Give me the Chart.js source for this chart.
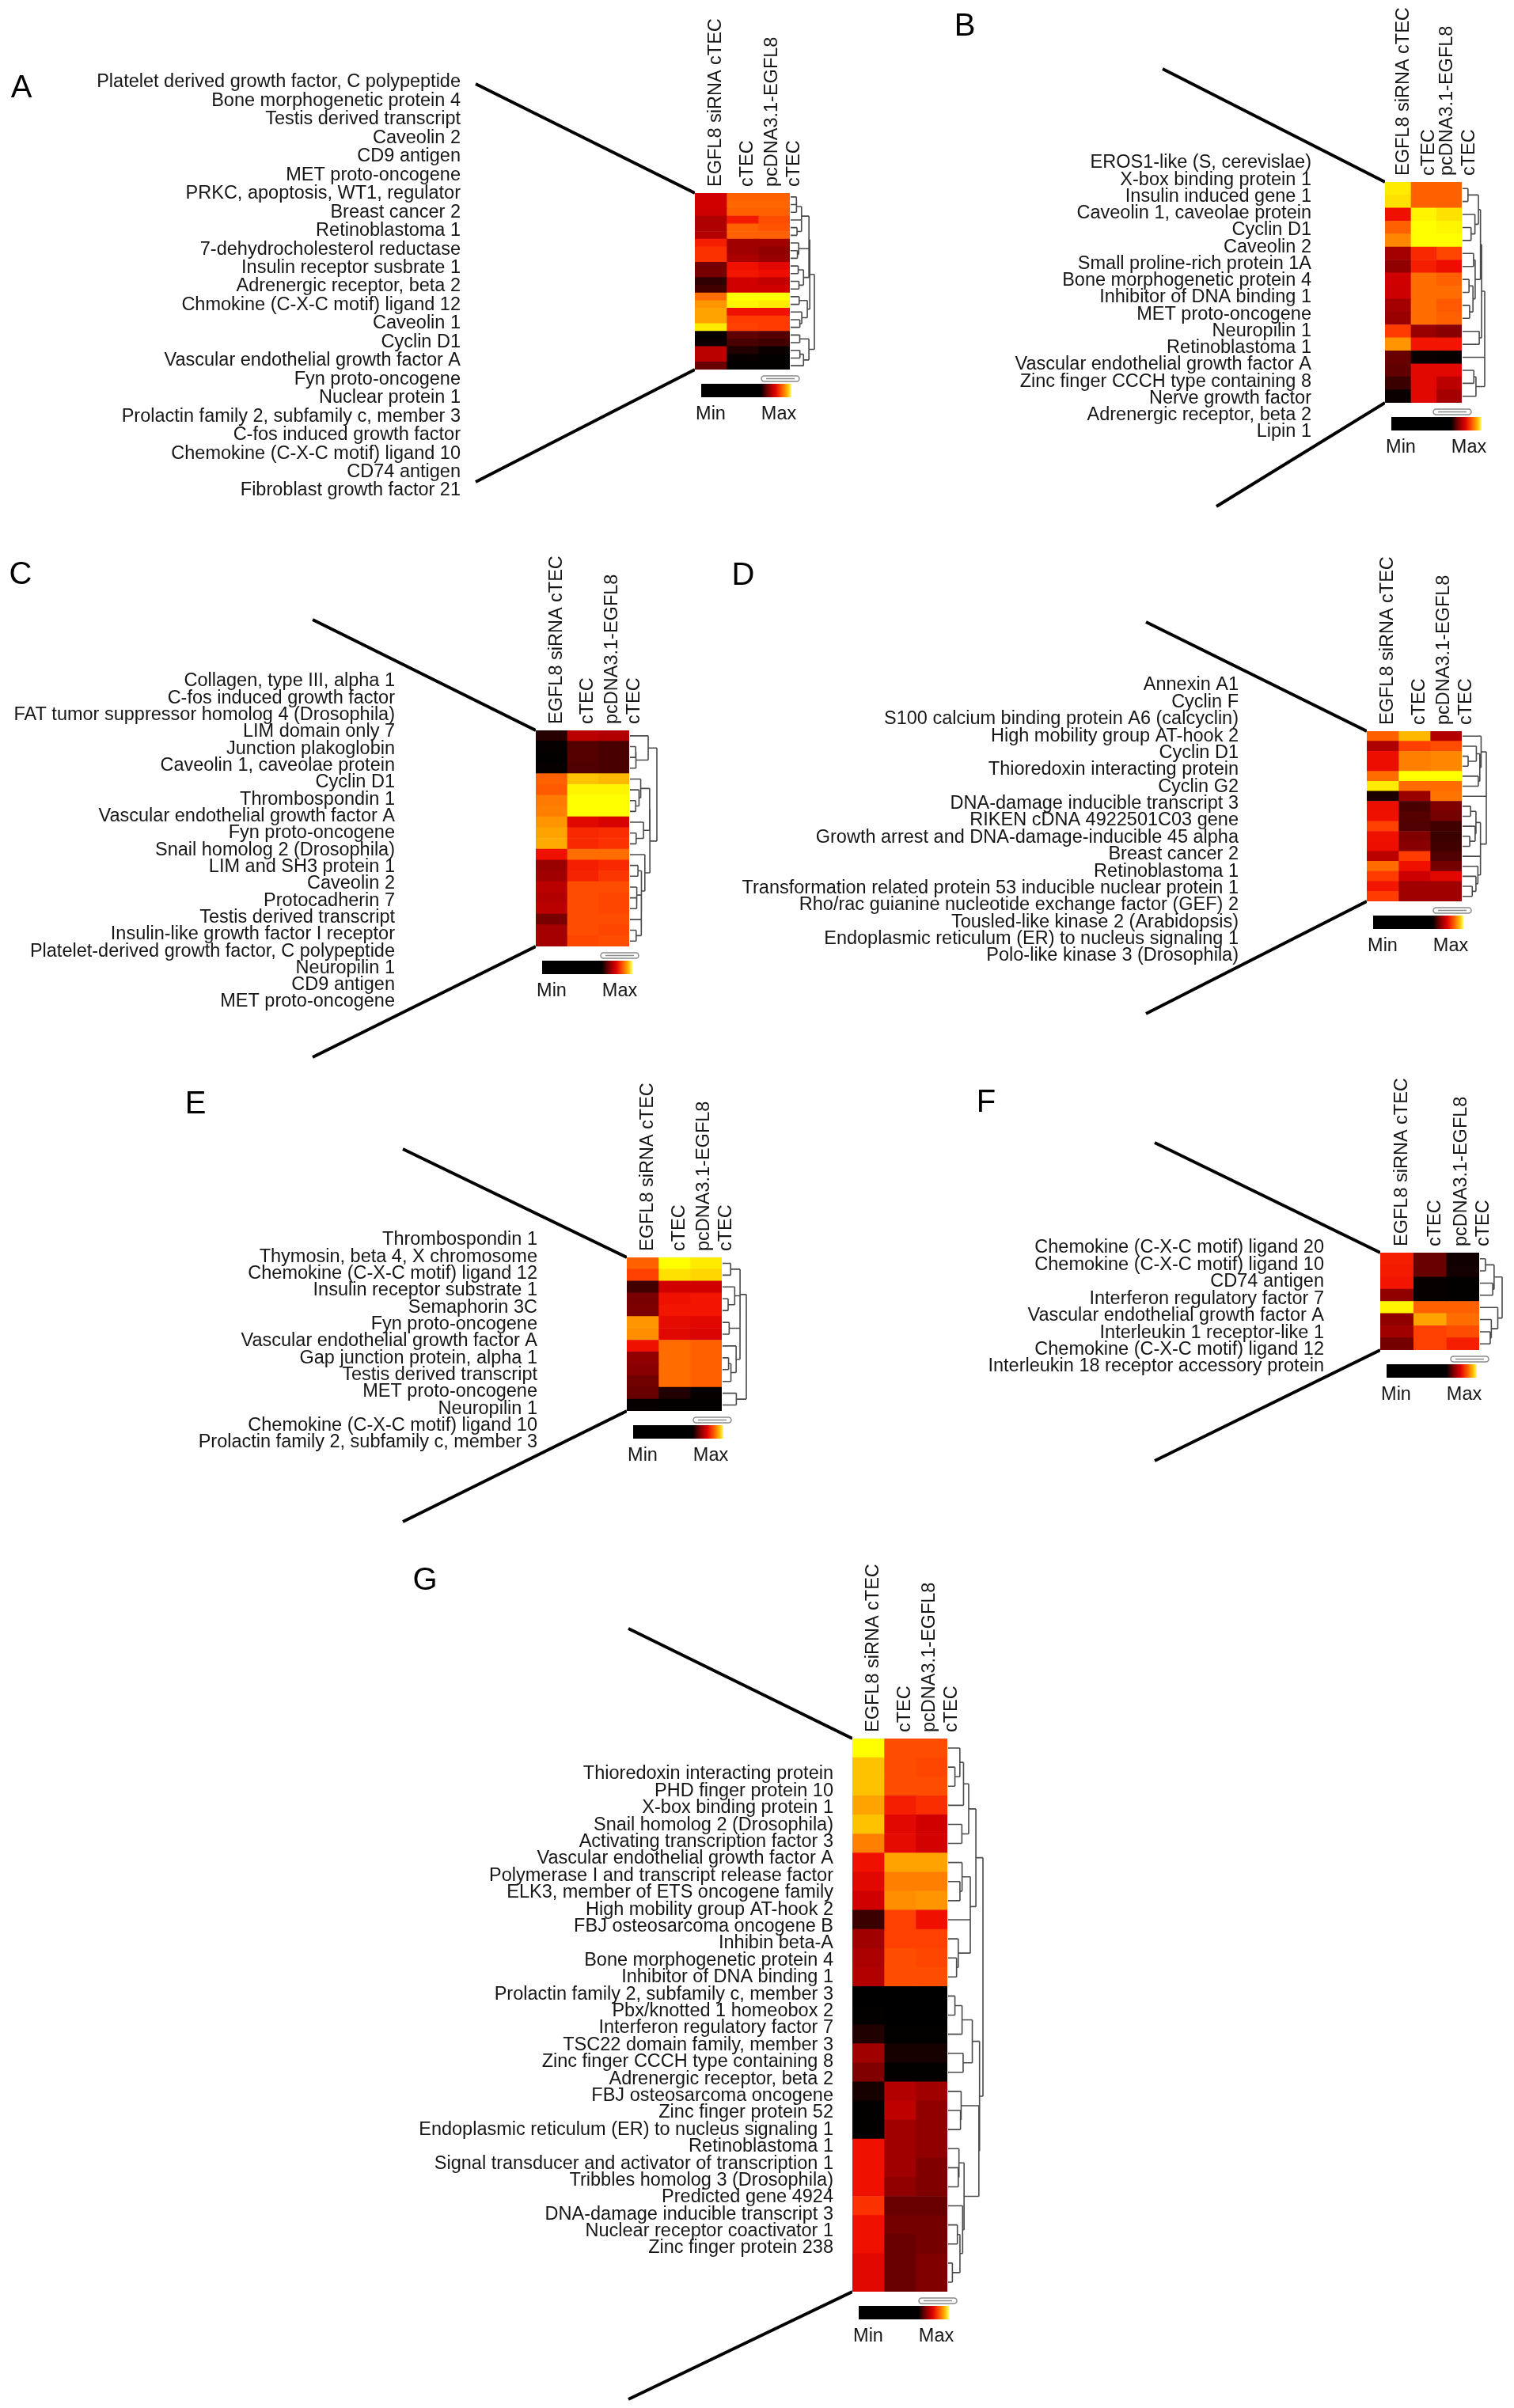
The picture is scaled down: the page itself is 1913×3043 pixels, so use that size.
<!DOCTYPE html>
<html>
<head>
<meta charset="utf-8">
<script src="https://cdn.jsdelivr.net/npm/chart.js@4.4.1/dist/chart.umd.min.js"></script>
<style>
  body { margin: 0; background: #fff; }
  #fig { position: relative; width: 1913px; height: 3043px; overflow: hidden; background: #fff; }
  #fig canvas { position: absolute; }
</style>
</head>
<body>
<div id="fig"></div>
<script>
// column tick labels, shared by every panel
const columnNames = ['EGFL8 siRNA cTEC', 'cTEC', ['pcDNA3.1-EGFL8', 'cTEC']];

// Panel A
const genesA = ['Platelet derived growth factor, C polypeptide', 'Bone morphogenetic protein 4', 'Testis derived transcript',
  'Caveolin 2', 'CD9 antigen', 'MET proto-oncogene', 'PRKC, apoptosis, WT1, regulator', 'Breast cancer 2', 'Retinoblastoma 1',
  '7-dehydrocholesterol reductase', 'Insulin receptor susbrate 1', 'Adrenergic receptor, beta 2', 'Chmokine (C-X-C motif) ligand 12',
  'Caveolin 1', 'Cyclin D1', 'Vascular endothelial growth factor A', 'Fyn proto-oncogene', 'Nuclear protein 1',
  'Prolactin family 2, subfamily c, member 3', 'C-fos induced growth factor', 'Chemokine (C-X-C motif) ligand 10', 'CD74 antigen',
  'Fibroblast growth factor 21'];
const sirnaA = [0.55, 0.55, 0.54, 0.47, 0.47, 0.48, 0.68, 0.72, 0.72, 0.33, 0.34, 0.15, 0.2, 0.82, 0.88, 0.9, 0.9, 0.98, 0.02, 0.03, 0.5, 0.5, 0.3];
const ctecA = [0.8, 0.81, 0.8, 0.67, 0.8, 0.8, 0.44, 0.44, 0.46, 0.65, 0.66, 0.55, 0.55, 1.0, 0.99, 0.65, 0.74, 0.75, 0.28, 0.22, 0.1, 0.02, 0.01];
const pcdnaA = [0.8, 0.81, 0.8, 0.77, 0.78, 0.8, 0.44, 0.4, 0.42, 0.6, 0.64, 0.52, 0.55, 1.0, 0.98, 0.65, 0.74, 0.74, 0.25, 0.2, 0.03, 0.01, 0.01];

// Panel B
const genesB = ['EROS1-like (S, cerevislae)', 'X-box binding protein 1', 'Insulin induced gene 1', 'Caveolin 1, caveolae protein',
  'Cyclin D1', 'Caveolin 2', 'Small proline-rich protein 1A', 'Bone morphogenetic protein 4', 'Inhibitor of DNA binding 1',
  'MET proto-oncogene', 'Neuropilin 1', 'Retinoblastoma 1', 'Vascular endothelial growth factor A',
  'Zinc finger CCCH type containing 8', 'Nerve growth factor', 'Adrenergic receptor, beta 2', 'Lipin 1'];
const sirnaB = [0.98, 0.97, 0.65, 0.8, 0.86, 0.45, 0.4, 0.55, 0.54, 0.45, 0.42, 0.74, 0.88, 0.3, 0.28, 0.18, 0.03];
const ctecB = [0.8, 0.8, 0.99, 1.0, 1.0, 0.7, 0.68, 0.82, 0.82, 0.82, 0.82, 0.42, 0.66, 0.03, 0.6, 0.6, 0.6];
const pcdnaB = [0.8, 0.8, 0.97, 0.99, 1.0, 0.76, 0.64, 0.8, 0.82, 0.79, 0.8, 0.38, 0.66, 0.02, 0.6, 0.5, 0.45];

// Panel C
const genesC = ['Collagen, type III, alpha 1', 'C-fos induced growth factor', 'FAT tumor suppressor homolog 4 (Drosophila)',
  'LIM domain only 7', 'Junction plakoglobin', 'Caveolin 1, caveolae protein', 'Cyclin D1', 'Thrombospondin 1',
  'Vascular endothelial growth factor A', 'Fyn proto-oncogene', 'Snail homolog 2 (Drosophila)', 'LIM and SH3 protein 1',
  'Caveolin 2', 'Protocadherin 7', 'Testis derived transcript', 'Insulin-like growth factor I receptor',
  'Platelet-derived growth factor, C polypeptide', 'Neuropilin 1', 'CD9 antigen', 'MET proto-oncogene'];
const sirnaC = [0.12, 0.02, 0.01, 0.02, 0.8, 0.79, 0.84, 0.85, 0.88, 0.9, 0.91, 0.65, 0.42, 0.44, 0.5, 0.48, 0.5, 0.34, 0.45, 0.45];
const ctecC = [0.5, 0.25, 0.25, 0.24, 0.94, 0.99, 1.0, 1.0, 0.6, 0.7, 0.7, 0.82, 0.68, 0.69, 0.77, 0.77, 0.77, 0.77, 0.77, 0.76];
const pcdnaC = [0.48, 0.22, 0.22, 0.22, 0.93, 0.99, 1.0, 1.0, 0.57, 0.71, 0.72, 0.82, 0.7, 0.73, 0.77, 0.76, 0.76, 0.77, 0.76, 0.77];

// Panel D
const genesD = ['Annexin A1', 'Cyclin F', 'S100 calcium binding protein A6 (calcyclin)', 'High mobility group AT-hook 2',
  'Cyclin D1', 'Thioredoxin interacting protein', 'Cyclin G2', 'DNA-damage inducible transcript 3', 'RIKEN cDNA 4922501C03 gene',
  'Growth arrest and DNA-damage-inducible 45 alpha', 'Breast cancer 2', 'Retinoblastoma 1',
  'Transformation related protein 53 inducible nuclear protein 1', 'Rho/rac guianine nucleotide exchange factor (GEF) 2',
  'Tousled-like kinase 2 (Arabidopsis)', 'Endoplasmic reticulum (ER) to nucleus signaling 1', 'Polo-like kinase 3 (Drosophila)'];
const sirnaD = [0.8, 0.47, 0.64, 0.63, 0.82, 0.98, 0.08, 0.64, 0.65, 0.75, 0.65, 0.64, 0.5, 0.82, 0.74, 0.66, 0.74];
const ctecD = [0.93, 0.75, 0.85, 0.85, 1.0, 0.82, 0.42, 0.22, 0.25, 0.24, 0.36, 0.38, 0.74, 0.65, 0.54, 0.44, 0.44];
const pcdnaD = [0.48, 0.77, 0.86, 0.86, 1.0, 0.82, 0.83, 0.36, 0.33, 0.2, 0.18, 0.2, 0.24, 0.33, 0.6, 0.44, 0.44];

// Panel E
const genesE = ['Thrombospondin 1', 'Thymosin, beta 4, X chromosome', 'Chemokine (C-X-C motif) ligand 12',
  'Insulin receptor substrate 1', 'Semaphorin 3C', 'Fyn proto-oncogene', 'Vascular endothelial growth factor A',
  'Gap junction protein, alpha 1', 'Testis derived transcript', 'MET proto-oncogene', 'Neuropilin 1',
  'Chemokine (C-X-C motif) ligand 10', 'Prolactin family 2, subfamily c, member 3'];
const sirnaE = [0.8, 0.75, 0.2, 0.34, 0.35, 0.88, 0.87, 0.65, 0.4, 0.38, 0.32, 0.3, 0.02];
const ctecE = [1.0, 0.97, 0.55, 0.65, 0.66, 0.62, 0.6, 0.82, 0.82, 0.82, 0.82, 0.1, 0.01];
const pcdnaE = [0.98, 0.96, 0.55, 0.66, 0.66, 0.6, 0.58, 0.8, 0.8, 0.8, 0.8, 0.02, 0.01];

// Panel F
const genesF = ['Chemokine (C-X-C motif) ligand 20', 'Chemokine (C-X-C motif) ligand 10', 'CD74 antigen',
  'Interferon regulatory factor 7', 'Vascular endothelial growth factor A', 'Interleukin 1 receptor-like 1',
  'Chemokine (C-X-C motif) ligand 12', 'Interleukin 18 receptor accessory protein'];
const sirnaF = [0.68, 0.67, 0.66, 0.4, 0.99, 0.4, 0.44, 0.33];
const ctecF = [0.3, 0.3, 0.02, 0.02, 0.8, 0.9, 0.75, 0.75];
const pcdnaF = [0.05, 0.06, 0.01, 0.01, 0.8, 0.82, 0.77, 0.68];

// Panel G
const genesG = ['Thioredoxin interacting protein', 'PHD finger protein 10', 'X-box binding protein 1', 'Snail homolog 2 (Drosophila)',
  'Activating transcription factor 3', 'Vascular endothelial growth factor A', 'Polymerase I and transcript release factor',
  'ELK3, member of ETS oncogene family', 'High mobility group AT-hook 2', 'FBJ osteosarcoma oncogene B', 'Inhibin beta-A',
  'Bone morphogenetic protein 4', 'Inhibitor of DNA binding 1', 'Prolactin family 2, subfamily c, member 3',
  'Pbx/knotted 1 homeobox 2', 'Interferon regulatory factor 7', 'TSC22 domain family, member 3',
  'Zinc finger CCCH type containing 8', 'Adrenergic receptor, beta 2', 'FBJ osteosarcoma oncogene', 'Zinc finger protein 52',
  'Endoplasmic reticulum (ER) to nucleus signaling 1', 'Retinoblastoma 1', 'Signal transducer and activator of transcription 1',
  'Tribbles homolog 3 (Drosophila)', 'Predicted gene 4924', 'DNA-damage inducible transcript 3', 'Nuclear receptor coactivator 1',
  'Zinc finger protein 238'];
const sirnaG = [1.0, 0.94, 0.94, 0.9, 0.94, 0.85, 0.65, 0.6, 0.55, 0.18, 0.44, 0.46, 0.48, 0.0, 0.01, 0.1, 0.44, 0.36, 0.07, 0.01, 0.01, 0.65, 0.65, 0.65, 0.72, 0.65, 0.65, 0.6, 0.6];
const ctecG = [0.77, 0.77, 0.77, 0.68, 0.6, 0.62, 0.9, 0.85, 0.87, 0.75, 0.75, 0.77, 0.77, 0.0, 0.0, 0.01, 0.07, 0.01, 0.48, 0.51, 0.44, 0.44, 0.44, 0.4, 0.3, 0.33, 0.3, 0.3, 0.3];
const pcdnaG = [0.77, 0.76, 0.77, 0.71, 0.55, 0.56, 0.9, 0.85, 0.88, 0.65, 0.75, 0.76, 0.77, 0.0, 0.0, 0.01, 0.07, 0.01, 0.44, 0.4, 0.4, 0.4, 0.36, 0.36, 0.3, 0.33, 0.33, 0.36, 0.36];

// where each panel sits on the page
const layouts = {
  A: { letterAt: [27, 112], area: [0, 0, 650], labelRight: 582, labelSpan: [104, 620], heat: [878, 244, 998, 467], lineFrom: [[601, 106], [601, 609]], dendroW: 30 },
  B: { letterAt: [1219, 34], area: [960, 0, 650], labelRight: 1657, labelSpan: [206, 546], heat: [1750, 230, 1847, 509], lineFrom: [[1469, 87], [1537, 640]], dendroW: 28 },
  C: { letterAt: [26, 727], area: [0, 660, 1345], labelRight: 499, labelSpan: [861, 1266], heat: [677, 923, 795, 1196], lineFrom: [[395, 783], [395, 1336]], dendroW: 34 },
  D: { letterAt: [939, 728], area: [900, 660, 1345], labelRight: 1565, labelSpan: [866, 1208], heat: [1727, 924, 1847, 1139], lineFrom: [[1448, 786], [1448, 1281]], dendroW: 30 },
  E: { letterAt: [247, 1396], area: [0, 1345, 1945], labelRight: 679, labelSpan: [1567, 1823], heat: [792, 1589, 912, 1783], lineFrom: [[509, 1452], [509, 1923]], dendroW: 30 },
  F: { letterAt: [1246, 1394], area: [960, 1345, 1945], labelRight: 1673, labelSpan: [1577, 1727], heat: [1744, 1583, 1869, 1706], lineFrom: [[1459, 1444], [1459, 1846]], dendroW: 28 },
  G: { letterAt: [537, 1998], area: [0, 1950, 3043], labelRight: 1053, labelSpan: [2242, 2841], heat: [1077, 2197, 1197, 2896], lineFrom: [[794, 2058], [794, 3032]], dendroW: 44 }
};

const panels = [
  { id: 'A', genes: genesA, series: [sirnaA, ctecA, pcdnaA] },
  { id: 'B', genes: genesB, series: [sirnaB, ctecB, pcdnaB] },
  { id: 'C', genes: genesC, series: [sirnaC, ctecC, pcdnaC] },
  { id: 'D', genes: genesD, series: [sirnaD, ctecD, pcdnaD] },
  { id: 'E', genes: genesE, series: [sirnaE, ctecE, pcdnaE] },
  { id: 'F', genes: genesF, series: [sirnaF, ctecF, pcdnaF] },
  { id: 'G', genes: genesG, series: [sirnaG, ctecG, pcdnaG] }
];

const ink = '#161616';
const family = "'Liberation Sans', Arial, sans-serif";
const labelFont = { family: family, size: 23.5, lineHeight: 1.2 };
const lineH = 23.5 * 1.2;

// black -> red -> yellow colour ramp of the heat map
const heatStops = [[0, '#000000'], [0.2, '#400000'], [0.4, '#900000'], [0.55, '#d00000'], [0.65, '#f01000'],
  [0.75, '#ff4000'], [0.85, '#ff8000'], [0.93, '#ffb800'], [1, '#ffff00']];

function hexToRgb(h) {
  return [parseInt(h.slice(1, 3), 16), parseInt(h.slice(3, 5), 16), parseInt(h.slice(5, 7), 16)];
}

function heatColor(v) {
  for (let i = 1; i < heatStops.length; i++) {
    if (v <= heatStops[i][0]) {
      const p0 = heatStops[i - 1][0], p1 = heatStops[i][0];
      const a = hexToRgb(heatStops[i - 1][1]), b = hexToRgb(heatStops[i][1]);
      const t = (v - p0) / (p1 - p0);
      return 'rgb(' + a.map((x, k) => Math.round(x + (b[k] - x) * t)).join(',') + ')';
    }
  }
  return heatStops[heatStops.length - 1][1];
}

const fig = document.getElementById('fig');

function makeCanvas(x, y, w, h) {
  const c = document.createElement('canvas');
  c.width = w;
  c.height = h;
  c.style.left = x + 'px';
  c.style.top = y + 'px';
  fig.appendChild(c);
  return c;
}

// row dendrogram: adjacent rows merged by average distance, so the leaf order stays as drawn
function drawDendrogram(ctx, rows, yOf, x0, w) {
  const d2 = (a, b) => Math.sqrt(a.reduce((s, v, k) => s + (v - b[k]) * (v - b[k]), 0));
  const link = (a, b) => {
    let s = 0;
    a.m.forEach(i => b.m.forEach(j => { s += d2(rows[i], rows[j]); }));
    return s / (a.m.length * b.m.length);
  };
  let nodes = rows.map((r, i) => ({ m: [i], y: yOf(i), h: 0 }));
  const merges = [];
  while (nodes.length > 1) {
    let best = 0, bd = Infinity;
    for (let k = 0; k < nodes.length - 1; k++) {
      const d = link(nodes[k], nodes[k + 1]);
      if (d < bd) { bd = d; best = k; }
    }
    const a = nodes[best], b = nodes[best + 1];
    const n = { m: a.m.concat(b.m), y: (a.y + b.y) / 2, h: Math.max(bd, a.h, b.h) + 0.001, a: a, b: b };
    merges.push(n);
    nodes.splice(best, 2, n);
  }
  const hmax = nodes[0].h || 1;
  const xh = h => x0 + 4 + (w - 4) * Math.sqrt(h / hmax);
  ctx.save();
  ctx.strokeStyle = '#4a4a4a';
  ctx.lineWidth = 1.6;
  ctx.beginPath();
  merges.forEach(n => {
    const xn = xh(n.h);
    [n.a, n.b].forEach(c => {
      ctx.moveTo(c.m.length === 1 ? x0 : xh(c.h), c.y);
      ctx.lineTo(xn, c.y);
    });
    ctx.moveTo(xn, n.a.y);
    ctx.lineTo(xn, n.b.y);
  });
  ctx.stroke();
  ctx.restore();
}

function labelChart(p) {
  const L = layouts[p.id];
  const cx = L.area[0], cy = L.area[1], cb = L.area[2];
  const cw = L.heat[0] - cx, ch = cb - cy;
  const n = p.genes.length;
  const sp = (L.labelSpan[1] - L.labelSpan[0]) / (n - 1);
  const cv = makeCanvas(cx, cy, cw, ch);
  new Chart(cv, {
    type: 'bar',
    data: { labels: p.genes, datasets: [] },
    options: {
      indexAxis: 'y',
      responsive: false,
      animation: false,
      devicePixelRatio: 1,
      layout: { padding: { left: 0, right: 0, top: L.labelSpan[0] - sp / 2 - cy, bottom: cb - (L.labelSpan[1] + sp / 2) } },
      plugins: { legend: { display: false }, tooltip: { enabled: false } },
      scales: {
        x: { display: false },
        y: {
          offset: true,
          grid: { display: false, drawTicks: false },
          border: { display: false },
          ticks: { autoSkip: false, padding: 0, color: ink, font: labelFont },
          afterFit: s => { s.width = L.labelRight - cx; }
        }
      }
    },
    plugins: [{
      id: 'zoomLines',
      afterDraw(chart) {
        const ctx = chart.ctx;
        const [hl, ht, , hb] = L.heat;
        ctx.save();
        ctx.strokeStyle = '#000';
        ctx.lineWidth = 4;
        ctx.lineCap = 'butt';
        ctx.beginPath();
        ctx.moveTo(L.lineFrom[0][0] - cx, L.lineFrom[0][1] - cy);
        ctx.lineTo(hl - cx, ht - cy);
        ctx.moveTo(hl - cx, hb - cy);
        ctx.lineTo(L.lineFrom[1][0] - cx, L.lineFrom[1][1] - cy);
        ctx.stroke();
        ctx.fillStyle = '#000';
        ctx.font = '40px ' + family;
        ctx.textAlign = 'center';
        ctx.textBaseline = 'middle';
        ctx.fillText(p.id, L.letterAt[0] - cx, L.letterAt[1] - cy);
        ctx.restore();
      }
    }]
  });
}

function heatChart(p) {
  const L = layouts[p.id];
  const [hl, ht, hr, hb] = L.heat;
  const colW = (hr - hl) / 3;
  const padL = 20, axisH = 240, padR = 110, padB = 100;
  const cv = makeCanvas(hl - padL, ht - axisH, padL + (hr - hl) + padR, axisH + (hb - ht) + padB);
  // one tick per printed line of a column name; later lines of a name sit one line further right
  const tickLines = [];
  columnNames.forEach((name, c) => {
    const lines = Array.isArray(name) ? name : [name];
    const shift = lines.length > 1 ? -2 : 7;
    lines.forEach((txt, k) => tickLines.push({ value: c + 0.5 + (shift + k * 28) / colW, text: txt }));
  });
  const datasets = p.series.map((vals, c) => ({
    data: vals.map((v, i) => ({ y: i, x: [c, c + 1], v: v })),
    backgroundColor: ctx => (ctx.raw ? heatColor(ctx.raw.v) : '#000'),
    borderWidth: 0,
    grouped: false,
    barPercentage: 1,
    categoryPercentage: 1
  }));
  new Chart(cv, {
    type: 'bar',
    data: { labels: p.genes, datasets: datasets },
    options: {
      indexAxis: 'y',
      responsive: false,
      animation: false,
      devicePixelRatio: 1,
      layout: { padding: { left: padL, right: padR, top: 0, bottom: padB } },
      plugins: { legend: { display: false }, tooltip: { enabled: false } },
      scales: {
        x: {
          type: 'linear',
          position: 'top',
          min: 0,
          max: 3,
          grid: { display: false, drawTicks: false },
          border: { display: false },
          afterBuildTicks: s => { s.ticks = tickLines.map(t => ({ value: t.value })); },
          afterFit: s => { s.height = axisH; },
          ticks: { autoSkip: false, minRotation: 90, maxRotation: 90, padding: 8, labelOffset: lineH,
            color: ink, font: labelFont, callback: (v, i) => tickLines[i].text }
        },
        y: { type: 'category', display: false, offset: true, grid: { display: false } }
      }
    },
    plugins: [{
      id: 'heatExtras',
      afterDraw(chart) {
        const ctx = chart.ctx;
        const a = chart.chartArea;
        const ys = chart.scales.y;
        const rows = p.genes.map((g, i) => p.series.map(s => s[i]));
        drawDendrogram(ctx, rows, i => ys.getPixelForValue(i), a.right + 1, L.dendroW);

        // small column-tree box
        ctx.save();
        ctx.strokeStyle = '#8a8a8a';
        ctx.lineWidth = 1.5;
        ctx.beginPath();
        ctx.roundRect(a.right - 36, a.bottom + 8, 48, 7, 3.5);
        ctx.moveTo(a.right - 30, a.bottom + 11.5);
        ctx.lineTo(a.right + 6, a.bottom + 11.5);
        ctx.stroke();

        // colour key
        const cbL = a.left + 8, cbT = a.bottom + 18, cbW = 114, cbH = 17;
        const g = ctx.createLinearGradient(cbL, 0, cbL + cbW, 0);
        [[0, '#000000'], [0.66, '#000000'], [0.74, '#7a0000'], [0.82, '#e00000'], [0.9, '#ff6000'], [0.96, '#ffc000'], [1, '#ffff70']]
          .forEach(s => g.addColorStop(s[0], s[1]));
        ctx.fillStyle = g;
        ctx.fillRect(cbL, cbT, cbW, cbH);
        ctx.fillStyle = ink;
        ctx.font = '23.5px ' + family;
        ctx.textAlign = 'center';
        ctx.textBaseline = 'middle';
        ctx.fillText('Min', cbL + 12, cbT + cbH + 22);
        ctx.fillText('Max', cbL + 98, cbT + cbH + 22);
        ctx.restore();
      }
    }]
  });
}

panels.forEach(p => {
  labelChart(p);
  heatChart(p);
});
</script>
</body>
</html>
